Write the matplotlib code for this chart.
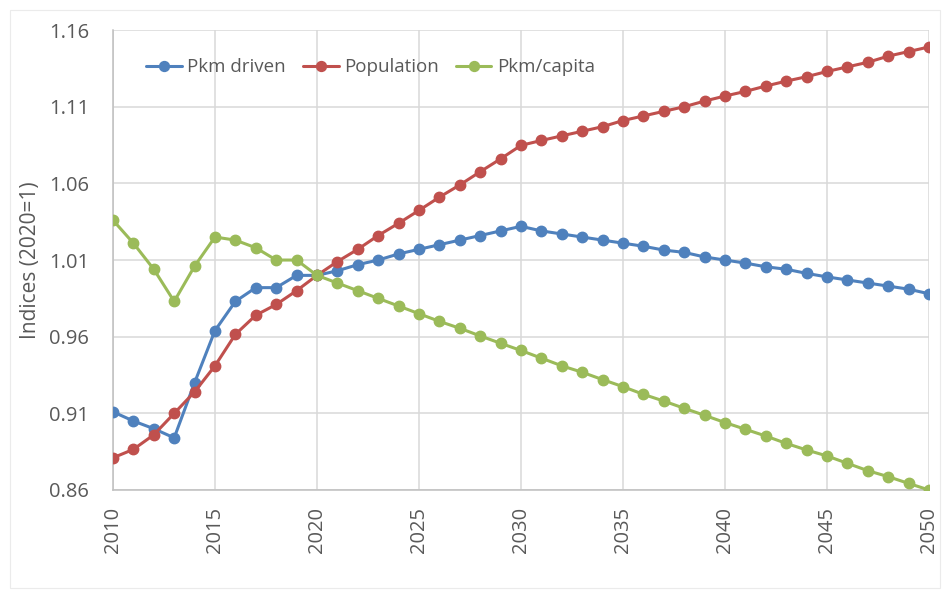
import numpy as np
import matplotlib.pyplot as plt
from matplotlib.patches import Rectangle

years = np.arange(2010, 2051)

pkm_driven = [0.911, 0.905, 0.900, 0.894, 0.930, 0.964, 0.983, 0.992, 0.992, 1.000,
              1.000, 1.003, 1.007, 1.010, 1.014, 1.017, 1.020, 1.023, 1.026, 1.029,
              1.032, 1.029, 1.027, 1.025, 1.023, 1.021, 1.019, 1.0165, 1.015, 1.012,
              1.010, 1.008, 1.0056, 1.004, 1.0013, 0.999, 0.997, 0.995, 0.993, 0.991,
              0.988]

population = [0.881, 0.8865, 0.896, 0.910, 0.924, 0.941, 0.9615, 0.974, 0.981, 0.990,
              1.000, 1.009, 1.017, 1.026, 1.034, 1.0424, 1.051, 1.059, 1.0676, 1.076,
              1.0848, 1.088, 1.091, 1.094, 1.097, 1.101, 1.104, 1.107, 1.110, 1.1137,
              1.117, 1.120, 1.1235, 1.1267, 1.1296, 1.133, 1.136, 1.139, 1.143, 1.146,
              1.149]

pkm_capita = [1.036, 1.021, 1.004, 0.983, 1.006, 1.025, 1.023, 1.018, 1.010, 1.010,
              1.000, 0.995, 0.990, 0.985, 0.980, 0.975, 0.970, 0.9655, 0.9605, 0.9557,
              0.951, 0.946, 0.941, 0.9368, 0.932, 0.9274, 0.9224, 0.918, 0.9133, 0.9087,
              0.904, 0.8996, 0.8952, 0.8904, 0.8861, 0.8822, 0.8774, 0.8726, 0.8687, 0.8643,
              0.860]

series = [("Pkm driven", pkm_driven, "#4F81BD"),
          ("Population", population, "#C0504D"),
          ("Pkm/capita", pkm_capita, "#9BBB59")]

yticks = [0.86, 0.91, 0.96, 1.01, 1.06, 1.11, 1.16]
xticks = list(range(2010, 2051, 5))

plt.rcParams['font.family'] = ['Open Sans', 'DejaVu Sans']
txt = '#595959'
grid_c = '#D9D9D9'

fig = plt.figure(figsize=(9.47, 5.9), dpi=100)
fig.patches.append(Rectangle((0.011, 0.003), 0.982, 0.98, transform=fig.transFigure,
                             fill=False, edgecolor='#EBEBEB', linewidth=0.8))
ax = fig.add_axes([0.1193, 0.1695, 0.8617, 0.7795])

for name, vals, col in series:
    ax.plot(years, vals, color=col, lw=2.2, marker='o', ms=7.5, label=name,
            solid_capstyle='round', zorder=3)

ax.set_xlim(2010, 2050)
ax.set_ylim(0.86, 1.16)
ax.set_xticks(xticks)
ax.set_yticks(yticks)
ax.set_yticklabels([f"{v:.2f}" for v in yticks])
ax.set_xticklabels([str(x) for x in xticks], rotation=90)
ax.tick_params(length=0, labelsize=14.5, colors=txt)
ax.tick_params(axis='y', pad=17)
ax.tick_params(axis='x', pad=12)
ax.grid(True, color=grid_c, lw=1.1, zorder=0)
ax.set_axisbelow(True)
for s in ['top', 'right']:
    ax.spines[s].set_visible(False)
for s in ['left', 'bottom']:
    ax.spines[s].set_color('#BFBFBF')
    ax.spines[s].set_linewidth(1.1)
ax.set_ylabel("Indices (2020=1)", fontsize=15, color=txt)
ax.yaxis.set_label_coords(-0.088, 0.5)

leg = ax.legend(loc='upper left', bbox_to_anchor=(0.02, 0.975), ncol=3, frameon=False,
                fontsize=13.5, handlelength=1.9, handletextpad=0.3, columnspacing=0.9,
                markerscale=0.95)
for t in leg.get_texts():
    t.set_color(txt)

fig.savefig("out.png", dpi=100)
